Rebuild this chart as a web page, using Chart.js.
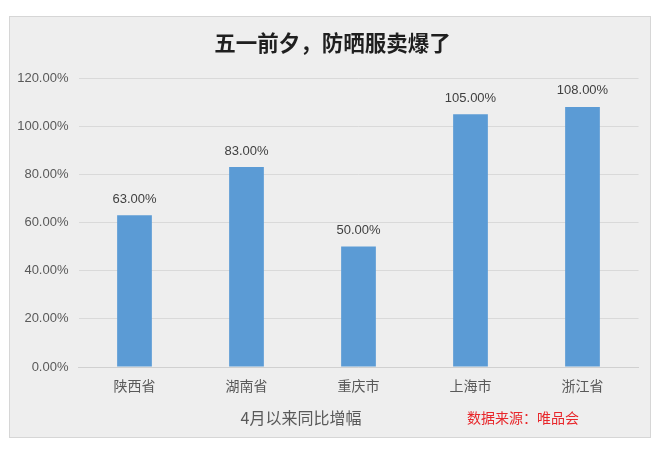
<!DOCTYPE html>
<html>
<head>
<meta charset="utf-8">
<script src="https://cdn.jsdelivr.net/npm/chart.js@4.4.1/dist/chart.umd.min.js"></script>
<style>
    body { margin: 0; background: #ffffff; }
    #wrap { width: 660px; height: 452px; position: relative; }
</style>
</head>
<body>
<div id="wrap"><canvas id="barChart"></canvas></div>
<script>
const provinces = ['陕西省', '湖南省', '重庆市', '上海市', '浙江省'];
const growthRates = [63, 83, 50, 105, 108];
const chartTitle = '五一前夕，防晒服卖爆了';
const axisTitle = '4月以来同比增幅';
const sourceNote = '数据来源：唯品会';

const CJK = '"Noto Sans CJK SC", "Liberation Sans", sans-serif';

// grey panel behind the whole chart
const panelBackground = {
    id: 'panelBackground',
    beforeDraw(chart) {
        const ctx = chart.ctx;
        ctx.save();
        ctx.fillStyle = '#eeeeee';
        ctx.fillRect(9, 16, 642, 422);
        ctx.strokeStyle = '#d6d6d6';
        ctx.lineWidth = 1;
        ctx.strokeRect(9.5, 16.5, 641, 421);
        ctx.restore();
    }
};

// title, value labels above bars, bottom notes
const barNotes = {
    id: 'barNotes',
    afterDatasetsDraw(chart) {
        const ctx = chart.ctx;
        const meta = chart.getDatasetMeta(0);
        ctx.save();
        ctx.textAlign = 'center';
        ctx.textBaseline = 'middle';

        ctx.font = 'bold 21.5px ' + CJK;
        ctx.fillStyle = '#1f1f1f';
        ctx.fillText(chartTitle, 332.5, 43);

        ctx.font = '13px "Liberation Sans", sans-serif';
        ctx.fillStyle = '#404040';
        meta.data.forEach((bar, i) => {
            ctx.fillText(growthRates[i].toFixed(2) + '%', bar.x, bar.y - 16);
        });

        ctx.font = '16px ' + CJK;
        ctx.fillStyle = '#595959';
        ctx.fillText(axisTitle, 301, 418);

        ctx.font = '14px ' + CJK;
        ctx.fillStyle = '#e8262a';
        ctx.fillText(sourceNote, 523, 418);
        ctx.restore();
    }
};

new Chart(document.getElementById('barChart'), {
    type: 'bar',
    data: {
        labels: provinces,
        datasets: [{
            data: growthRates,
            backgroundColor: '#5b9bd5',
            barPercentage: 0.31,
            categoryPercentage: 1
        }]
    },
    options: {
        responsive: true,
        maintainAspectRatio: false,
        animation: false,
        layout: {
            padding: { top: 78, right: 21.5, bottom: 14, left: 0 }
        },
        plugins: {
            legend: { display: false },
            tooltip: { enabled: false },
            title: { display: false }
        },
        scales: {
            x: {
                grid: { display: false, drawTicks: false },
                border: { display: true, color: '#d0d0d0' },
                ticks: {
                    color: '#595959',
                    font: { family: CJK, size: 14 },
                    padding: 10
                },
                afterFit(scale) { scale.height = 71; }
            },
            y: {
                min: 0,
                max: 120,
                grid: { color: '#d9d9d9', drawTicks: false },
                border: { display: false },
                ticks: {
                    stepSize: 20,
                    color: '#595959',
                    font: { family: '"Liberation Sans", sans-serif', size: 13 },
                    padding: 10,
                    callback: v => v.toFixed(2) + '%'
                },
                afterFit(scale) { scale.width = 78.5; }
            }
        }
    },
    plugins: [panelBackground, barNotes]
});
</script>
</body>
</html>
